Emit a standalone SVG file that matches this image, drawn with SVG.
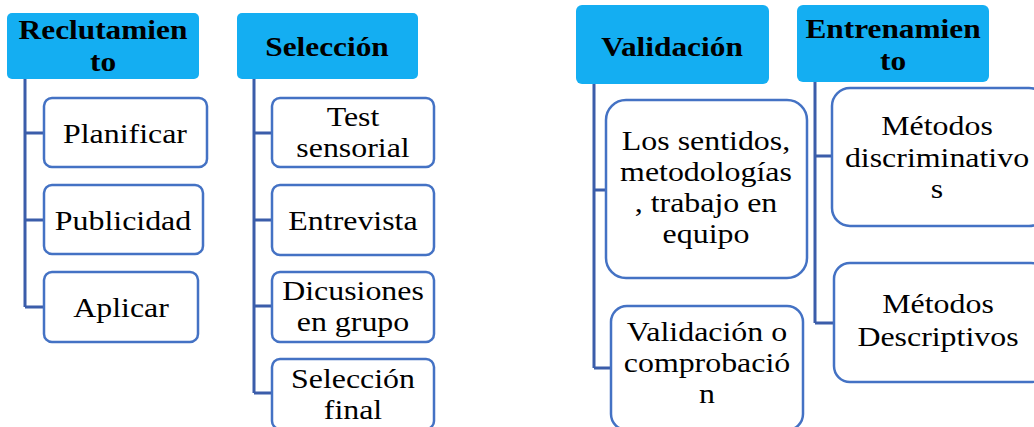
<svg xmlns="http://www.w3.org/2000/svg" width="1034" height="427" viewBox="0 0 1034 427">
<style>
.hdr{fill:#14AEF2;stroke:none}
.box{fill:#fff;stroke:#4472C4;stroke-width:2.5}
.con{fill:none;stroke:#3B5DAA;stroke-width:3}
text{font-family:'Liberation Serif','Times New Roman',serif;text-anchor:middle;fill:#000}
.h{font-size:27.5px;font-weight:bold}
.t{font-size:27.5px}
</style>
<rect width="1034" height="427" fill="#fff"/>
<g id="connectors">
<path class="con" d="M25,79 V307 M25,133 H44 M25,220 H44 M25,307 H44"/>
<path class="con" d="M254,79 V393 M254,133 H272 M254,220 H272 M254,306 H272 M254,393 H272"/>
<path class="con" d="M594,84 V368 M594,190 H606 M594,368 H611"/>
<path class="con" d="M815,82 V323 M815,156 H832 M815,323 H834"/>
</g>
<g id="reclutamiento">
<rect class="hdr" x="7" y="13" width="192" height="66" rx="5"/>
<text class="h" transform="translate(103,39) scale(1.14,1)">Reclutamien</text>
<text class="h" transform="translate(103,71) scale(1.14,1)">to</text>
</g>
<g id="planificar"><rect class="box" x="44" y="98" width="163" height="69" rx="8"/><text class="t" transform="translate(125,143) scale(1.16,1)">Planificar</text></g>
<g id="publicidad"><rect class="box" x="44" y="185" width="159" height="69" rx="8"/><text class="t" transform="translate(123,230) scale(1.16,1)">Publicidad</text></g>
<g id="aplicar"><rect class="box" x="44" y="272" width="154" height="70" rx="8"/><text class="t" transform="translate(121,317) scale(1.16,1)">Aplicar</text></g>
<g id="seleccion">
<rect class="hdr" x="237" y="13" width="181" height="66" rx="5"/>
<text class="h" transform="translate(327,56) scale(1.14,1)">Selección</text>
</g>
<g id="test"><rect class="box" x="272" y="98" width="162" height="69" rx="8"/><text class="t" transform="translate(353,126) scale(1.16,1)">Test</text><text class="t" transform="translate(353,157) scale(1.16,1)">sensorial</text></g>
<g id="entrevista"><rect class="box" x="272" y="185" width="162" height="70" rx="8"/><text class="t" transform="translate(353,230) scale(1.16,1)">Entrevista</text></g>
<g id="discusiones"><rect class="box" x="272" y="272" width="162" height="70" rx="8"/><text class="t" transform="translate(353,300) scale(1.16,1)">Dicusiones</text><text class="t" transform="translate(353,331) scale(1.16,1)">en grupo</text></g>
<g id="seleccion-final"><rect class="box" x="272" y="359" width="162" height="70" rx="8"/><text class="t" transform="translate(353,388) scale(1.16,1)">Selección</text><text class="t" transform="translate(353,419) scale(1.16,1)">final</text></g>
<g id="validacion">
<rect class="hdr" x="576" y="5" width="193" height="79" rx="6"/>
<text class="h" transform="translate(672,56) scale(1.14,1)">Validación</text>
</g>
<g id="sentidos"><rect class="box" x="606" y="100" width="201" height="178" rx="20"/>
<text class="t" transform="translate(706,150) scale(1.16,1)">Los sentidos,</text><text class="t" transform="translate(706,181) scale(1.16,1)">metodologías</text><text class="t" transform="translate(706,212) scale(1.16,1)">, trabajo en</text><text class="t" transform="translate(706,243) scale(1.16,1)">equipo</text></g>
<g id="comprobacion"><rect class="box" x="611" y="306" width="192" height="124" rx="16"/>
<text class="t" transform="translate(707,341) scale(1.16,1)">Validación o</text><text class="t" transform="translate(707,372) scale(1.16,1)">comprobació</text><text class="t" transform="translate(707,403) scale(1.16,1)">n</text></g>
<g id="entrenamiento">
<rect class="hdr" x="797" y="5" width="192" height="77" rx="6"/>
<text class="h" transform="translate(893,38) scale(1.14,1)">Entrenamien</text>
<text class="h" transform="translate(893,70) scale(1.14,1)">to</text>
</g>
<g id="discriminativos"><rect class="box" x="832" y="88" width="215" height="138" rx="18"/>
<text class="t" transform="translate(937,135) scale(1.16,1)">Métodos</text><text class="t" transform="translate(937,167) scale(1.16,1)">discriminativo</text><text class="t" transform="translate(937,198) scale(1.16,1)">s</text></g>
<g id="descriptivos"><rect class="box" x="834" y="263" width="213" height="119" rx="16"/>
<text class="t" transform="translate(938,313) scale(1.16,1)">Métodos</text><text class="t" transform="translate(938,346) scale(1.16,1)">Descriptivos</text></g>
</svg>
